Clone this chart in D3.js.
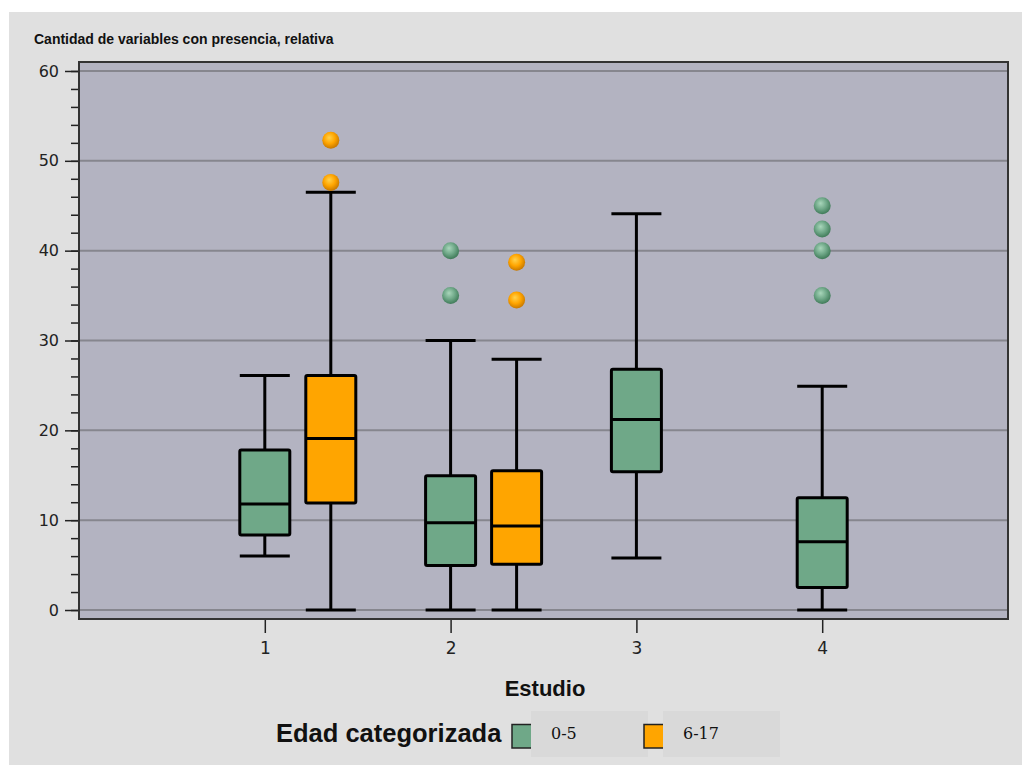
<!DOCTYPE html>
<html>
<head>
<meta charset="utf-8">
<script src="https://cdn.jsdelivr.net/npm/d3@7"></script>
<style>
  body { margin: 0; background: #fff; }
  svg { display: block; }
</style>
</head>
<body>
<div id="chart"></div>
<script>
// valores
const estudios = [1, 2, 3, 4];
const edades = ["0-5", "6-17"];

const estudio  = [1, 1, 2, 2, 3, 4];
const edad     = ["0-5", "6-17", "0-5", "6-17", "0-5", "0-5"];
const minimo   = [6.0, 0, 0, 0, 5.8, 0];
const q1       = [8.35, 11.9, 4.95, 5.1, 15.4, 2.5];
const mediana  = [11.8, 19.1, 9.7, 9.35, 21.2, 7.6];
const q3       = [17.8, 26.1, 14.95, 15.5, 26.8, 12.5];
const maximo   = [26.1, 46.5, 30.0, 27.9, 44.1, 24.9];
const atipicos = [[], [47.6, 52.3], [35.0, 40.0], [34.5, 38.7], [], [35.0, 40.0, 42.4, 45.0]];

const yTicks = [0, 10, 20, 30, 40, 50, 60];
const colores = ["#6fa888", "#ffa500"];

const W = 1022, H = 765;
const plot = { left: 79, right: 1008, top: 62, bottom: 619 };
const boxW = 50;

const x = d3.scaleLinear().domain([0, 5]).range([plot.left, plot.right]);
const y = d3.scaleLinear().domain([-1, 61]).range([plot.bottom, plot.top]);
const offset = d3.scalePoint().domain(edades).range([0, 66]);
const color = d3.scaleOrdinal().domain(edades).range(colores);

const boxes = estudio.map((e, i) => ({
  estudio: e, edad: edad[i], min: minimo[i], q1: q1[i], med: mediana[i],
  q3: q3[i], max: maximo[i], out: atipicos[i]
}));

const svg = d3.select("#chart").append("svg")
  .attr("width", W).attr("height", H);

const defs = svg.append("defs");
const grads = [["g0-5", "#a9d6bb", "#6fa888", "#3f7a58"], ["g6-17", "#ffd24d", "#ffa500", "#c77800"]];
grads.forEach(g => {
  const rg = defs.append("radialGradient").attr("id", g[0])
    .attr("cx", "45%").attr("cy", "40%").attr("r", "60%").attr("fx", "40%").attr("fy", "35%");
  rg.append("stop").attr("offset", "0%").attr("stop-color", g[1]);
  rg.append("stop").attr("offset", "55%").attr("stop-color", g[2]);
  rg.append("stop").attr("offset", "100%").attr("stop-color", g[3]);
});

// fondo
svg.append("rect").attr("x", 9).attr("y", 12).attr("width", W - 9).attr("height", H - 12)
  .attr("fill", "#e0e0e0");

svg.append("text")
  .attr("x", 34).attr("y", 44)
  .attr("font-family", "Liberation Sans, Arial, sans-serif")
  .attr("font-weight", "bold").attr("font-size", 14)
  .attr("fill", "#111")
  .text("Cantidad de variables con presencia, relativa");

// area del grafico
svg.append("rect")
  .attr("x", plot.left).attr("y", plot.top)
  .attr("width", plot.right - plot.left).attr("height", plot.bottom - plot.top)
  .attr("fill", "#b3b3c1");

svg.append("g").selectAll("line").data(yTicks).join("line")
  .attr("x1", plot.left).attr("x2", plot.right)
  .attr("y1", d => y(d)).attr("y2", d => y(d))
  .attr("stroke", "#86868e").attr("stroke-width", 2);

// eje y
const yMinor = svg.append("g")
  .attr("transform", `translate(${plot.left},0)`)
  .call(d3.axisLeft(y).tickValues(d3.range(0, 61, 2)).tickSize(8).tickFormat(""));
yMinor.select(".domain").remove();
yMinor.selectAll("line").attr("stroke", "#222").attr("stroke-width", 1.5);

const yAxis = svg.append("g")
  .attr("transform", `translate(${plot.left},0)`)
  .call(d3.axisLeft(y).tickValues(yTicks).tickSize(14).tickPadding(6));
yAxis.select(".domain").remove();
yAxis.selectAll("line").attr("stroke", "#222").attr("stroke-width", 1.5);
yAxis.selectAll("text")
  .attr("font-family", "DejaVu Sans, sans-serif").attr("font-size", 16).attr("fill", "#222");

// eje x
const xAxis = svg.append("g")
  .attr("transform", `translate(0,${plot.bottom})`)
  .call(d3.axisBottom(x).tickValues(estudios).tickFormat(d3.format("d")).tickSize(14).tickPadding(9));
xAxis.select(".domain").remove();
xAxis.selectAll("line").attr("stroke", "#222").attr("stroke-width", 1.5);
xAxis.selectAll("text")
  .attr("font-family", "DejaVu Sans, sans-serif").attr("font-size", 17).attr("fill", "#222");

// cajas
const g = svg.append("g").selectAll("g").data(boxes).join("g")
  .attr("transform", d => `translate(${x(d.estudio) + offset(d.edad)},0)`);

g.append("line").attr("y1", d => y(d.max)).attr("y2", d => y(d.q3))
  .attr("stroke", "#000").attr("stroke-width", 3);
g.append("line").attr("y1", d => y(d.q1)).attr("y2", d => y(d.min))
  .attr("stroke", "#000").attr("stroke-width", 3);
g.append("line").attr("x1", -boxW / 2).attr("x2", boxW / 2)
  .attr("y1", d => y(d.max)).attr("y2", d => y(d.max))
  .attr("stroke", "#000").attr("stroke-width", 3);
g.append("line").attr("x1", -boxW / 2).attr("x2", boxW / 2)
  .attr("y1", d => y(d.min)).attr("y2", d => y(d.min))
  .attr("stroke", "#000").attr("stroke-width", 3);
g.append("rect")
  .attr("x", -boxW / 2).attr("width", boxW)
  .attr("y", d => y(d.q3)).attr("height", d => y(d.q1) - y(d.q3))
  .attr("rx", 1.5)
  .attr("fill", d => color(d.edad)).attr("stroke", "#000").attr("stroke-width", 3);
g.append("line").attr("x1", -boxW / 2).attr("x2", boxW / 2)
  .attr("y1", d => y(d.med)).attr("y2", d => y(d.med))
  .attr("stroke", "#000").attr("stroke-width", 3);

g.selectAll("circle").data(d => d.out.map(v => ({ v: v, edad: d.edad }))).join("circle")
  .attr("cy", d => y(d.v)).attr("r", 8.5)
  .attr("fill", d => `url(#g${d.edad})`);

// marco
svg.append("rect")
  .attr("x", plot.left).attr("y", plot.top)
  .attr("width", plot.right - plot.left).attr("height", plot.bottom - plot.top)
  .attr("fill", "none").attr("stroke", "#333").attr("stroke-width", 2);

svg.append("text")
  .attr("x", 545).attr("y", 696).attr("text-anchor", "middle")
  .attr("font-family", "Liberation Sans, Arial, sans-serif")
  .attr("font-weight", "bold").attr("font-size", 22).attr("fill", "#111")
  .text("Estudio");

// leyenda
svg.append("text")
  .attr("x", 276).attr("y", 742)
  .attr("font-family", "Liberation Sans, Arial, sans-serif")
  .attr("font-weight", "bold").attr("font-size", 25.5).attr("fill", "#111")
  .text("Edad categorizada");

const legX = d3.scalePoint().domain(edades).range([512, 644]);
const leg = svg.append("g").selectAll("g").data(edades).join("g")
  .attr("transform", d => `translate(${legX(d)},0)`);
leg.append("rect").attr("x", 0).attr("y", 724.5).attr("width", 22).attr("height", 23.5)
  .attr("fill", d => color(d)).attr("stroke", "#222").attr("stroke-width", 1.5);
leg.append("rect").attr("x", 19).attr("y", 711).attr("width", 117).attr("height", 46)
  .attr("fill", "#d9d9d9");
leg.append("text").attr("x", 39).attr("y", 739)
  .attr("font-family", "DejaVu Serif, serif").attr("font-size", 16).attr("fill", "#111")
  .text(d => d);
</script>
</body>
</html>
